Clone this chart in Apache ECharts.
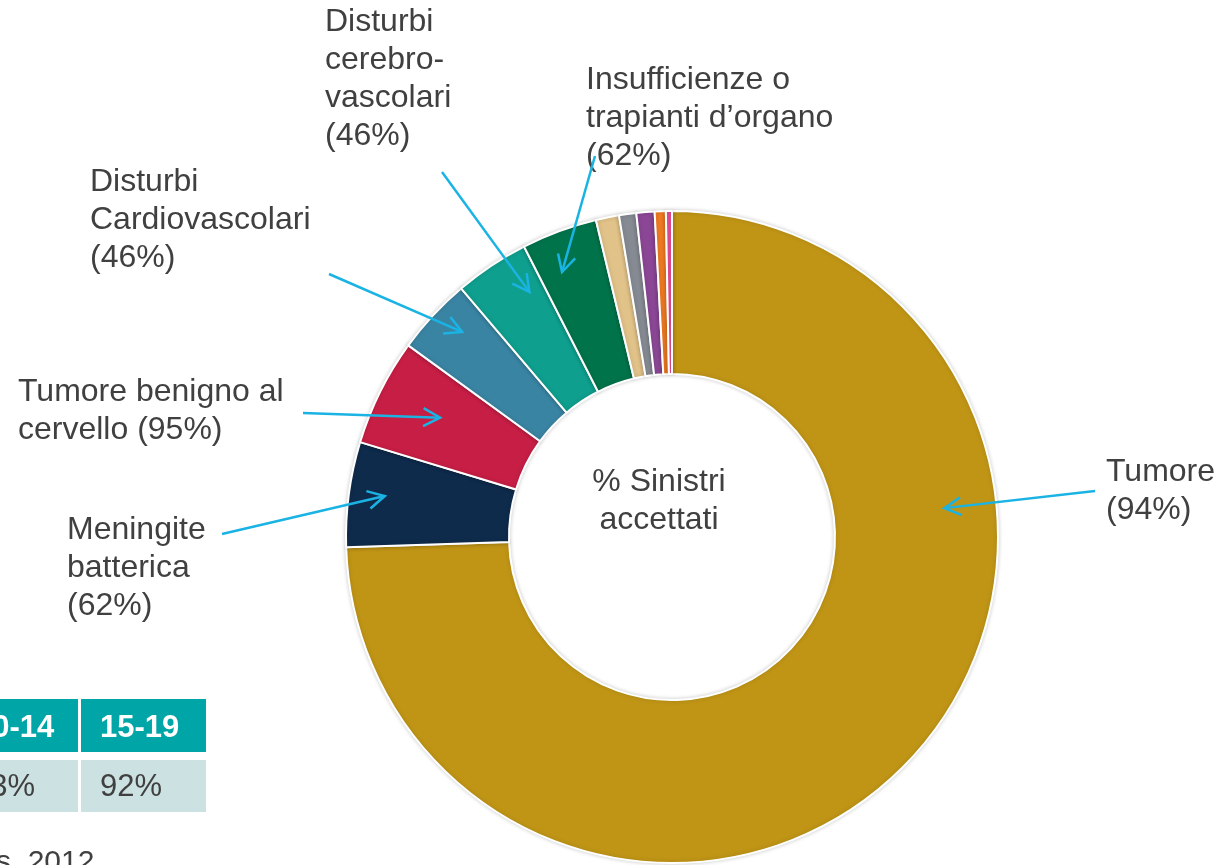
<!DOCTYPE html>
<html>
<head>
<meta charset="utf-8">
<title>% Sinistri accettati</title>
<script src="https://cdn.jsdelivr.net/npm/echarts@6/dist/echarts.min.js"></script>
<style>
  html, body { margin: 0; padding: 0; background: #fff; }
  #chart { width: 1231px; height: 865px; }
</style>
</head>
<body>
<div id="chart"></div>
<script>
// quota dei sinistri per causa (% del totale), in senso orario dall'alto
var categories = ['Tumore', 'Meningite batterica', 'Tumore benigno al cervello',
    'Disturbi Cardiovascolari', 'Disturbi cerebro-vascolari',
    'Insufficienze o trapianti d\u2019organo', 'Altro 1', 'Altro 2', 'Altro 3', 'Altro 4', 'Altro 5'];
var shares = [74.5, 5.2, 5.3, 3.8, 3.7, 3.75, 1.15, 0.85, 0.9, 0.55, 0.3];
var colors = ['#C09516', '#0F2B4B', '#C71E45', '#3A84A3', '#0F9F8E', '#00734A',
    '#E1C289', '#868A93', '#8B4795', '#F07A22', '#EA4C97'];

// etichette con % di sinistri accettati (solo le prime sei cause)
var labelTexts = ['Tumore\n(94%)', 'Meningite\nbatterica\n(62%)', 'Tumore benigno al\ncervello (95%)',
    'Disturbi\nCardiovascolari\n(46%)', 'Disturbi\ncerebro-\nvascolari\n(46%)',
    'Insufficienze o\ntrapianti d\u2019organo\n(62%)'];

// tabella per fascia d'eta
var tableHeaders = ['10-14', '15-19'];
var tableValues = ['93%', '92%'];

var CX = 672, CY = 537, R_OUT = 326, R_IN = 163;
var labelPos = [[1106, 453], [67, 511], [18, 373], [90, 163], [325, 3], [586, 61]];
var arrowTails = [[1095, 491], [222, 534], [303, 413], [329, 274], [442, 172], [595, 156]];
var tipAlong = [0.313, 0.53, 0.54, 0.61, 0.76, 0.33];
var tipRadius = [0.84, 0.89, 0.80, 0.90, 0.87, 0.88];

var TEXT = '#404040', ARROW = '#1AB3E3', FONT = '"Liberation Sans", Arial, sans-serif';

var chart = echarts.init(document.getElementById('chart'));

var total = shares.reduce(function(a, b) { return a + b; }, 0);
var starts = [], acc = 0;
shares.forEach(function(v) { starts.push(acc); acc += v; });

function polar(deg, rad) {
    var a = deg * Math.PI / 180;
    return [CX + rad * Math.sin(a), CY - rad * Math.cos(a)];
}

var graphic = [];

labelTexts.forEach(function(txt, i) {
    graphic.push({
        type: 'text', x: labelPos[i][0], y: labelPos[i][1], z: 10,
        style: { text: txt, fill: TEXT, font: '32px ' + FONT, lineHeight: 38, align: 'left', verticalAlign: 'top' }
    });
    var deg = (starts[i] + tipAlong[i] * shares[i]) / total * 360;
    var tip = polar(deg, tipRadius[i] * R_OUT);
    var tail = arrowTails[i];
    var ang = Math.atan2(tail[1] - tip[1], tail[0] - tip[0]);
    var arm = 19, spread = 28 * Math.PI / 180;
    var a1 = [tip[0] + arm * Math.cos(ang - spread), tip[1] + arm * Math.sin(ang - spread)];
    var a2 = [tip[0] + arm * Math.cos(ang + spread), tip[1] + arm * Math.sin(ang + spread)];
    graphic.push({
        type: 'polyline', z: 10,
        shape: { points: [tail, tip] },
        style: { stroke: ARROW, lineWidth: 2.5, fill: null }
    });
    graphic.push({
        type: 'polyline', z: 10,
        shape: { points: [a1, tip, a2] },
        style: { stroke: ARROW, lineWidth: 2.5, fill: null, lineJoin: 'miter' }
    });
});

// testo al centro
graphic.push({
    type: 'text', x: 659, y: 463, z: 10,
    style: { text: '% Sinistri\naccettati', fill: TEXT, font: '32px ' + FONT, lineHeight: 38, align: 'center', verticalAlign: 'top' }
});

// tabella in basso a sinistra (tagliata dal bordo)
var colX = [[-47, 78], [81, 206]];
tableHeaders.forEach(function(h, i) {
    graphic.push({
        type: 'rect', shape: { x: colX[i][0], y: 699, width: colX[i][1] - colX[i][0], height: 53 },
        style: { fill: '#00A5A7' }
    });
    graphic.push({
        type: 'rect', shape: { x: colX[i][0], y: 760, width: colX[i][1] - colX[i][0], height: 52 },
        style: { fill: '#CCE1E1' }
    });
    graphic.push({
        type: 'text', x: colX[i][0] + (i === 0 ? 22 : 19), y: 728, z: 5,
        style: { text: h, fill: '#fff', font: 'bold 31px ' + FONT, verticalAlign: 'middle' }
    });
    graphic.push({
        type: 'text', x: colX[i][0] + (i === 0 ? 20 : 19), y: 787, z: 5,
        style: { text: tableValues[i], fill: TEXT, font: '31px ' + FONT, verticalAlign: 'middle' }
    });
});
graphic.push({
    type: 'text', x: -4, y: 863,
    style: { text: 's, 2012', fill: TEXT, font: '30px ' + FONT, verticalAlign: 'middle' }
});

chart.setOption({
    backgroundColor: '#ffffff',
    animation: false,
    series: [{
        type: 'pie',
        center: [CX, CY],
        radius: [R_IN, R_OUT],
        startAngle: 90,
        clockwise: true,
        silent: true,
        label: { show: false },
        labelLine: { show: false },
        itemStyle: {
            borderColor: '#ffffff',
            borderWidth: 2,
            shadowBlur: 4,
            shadowColor: 'rgba(0,0,0,0.18)'
        },
        data: categories.map(function(c, i) {
            return { name: c, value: shares[i], itemStyle: { color: colors[i] } };
        })
    }],
    graphic: graphic
});
</script>
</body>
</html>
